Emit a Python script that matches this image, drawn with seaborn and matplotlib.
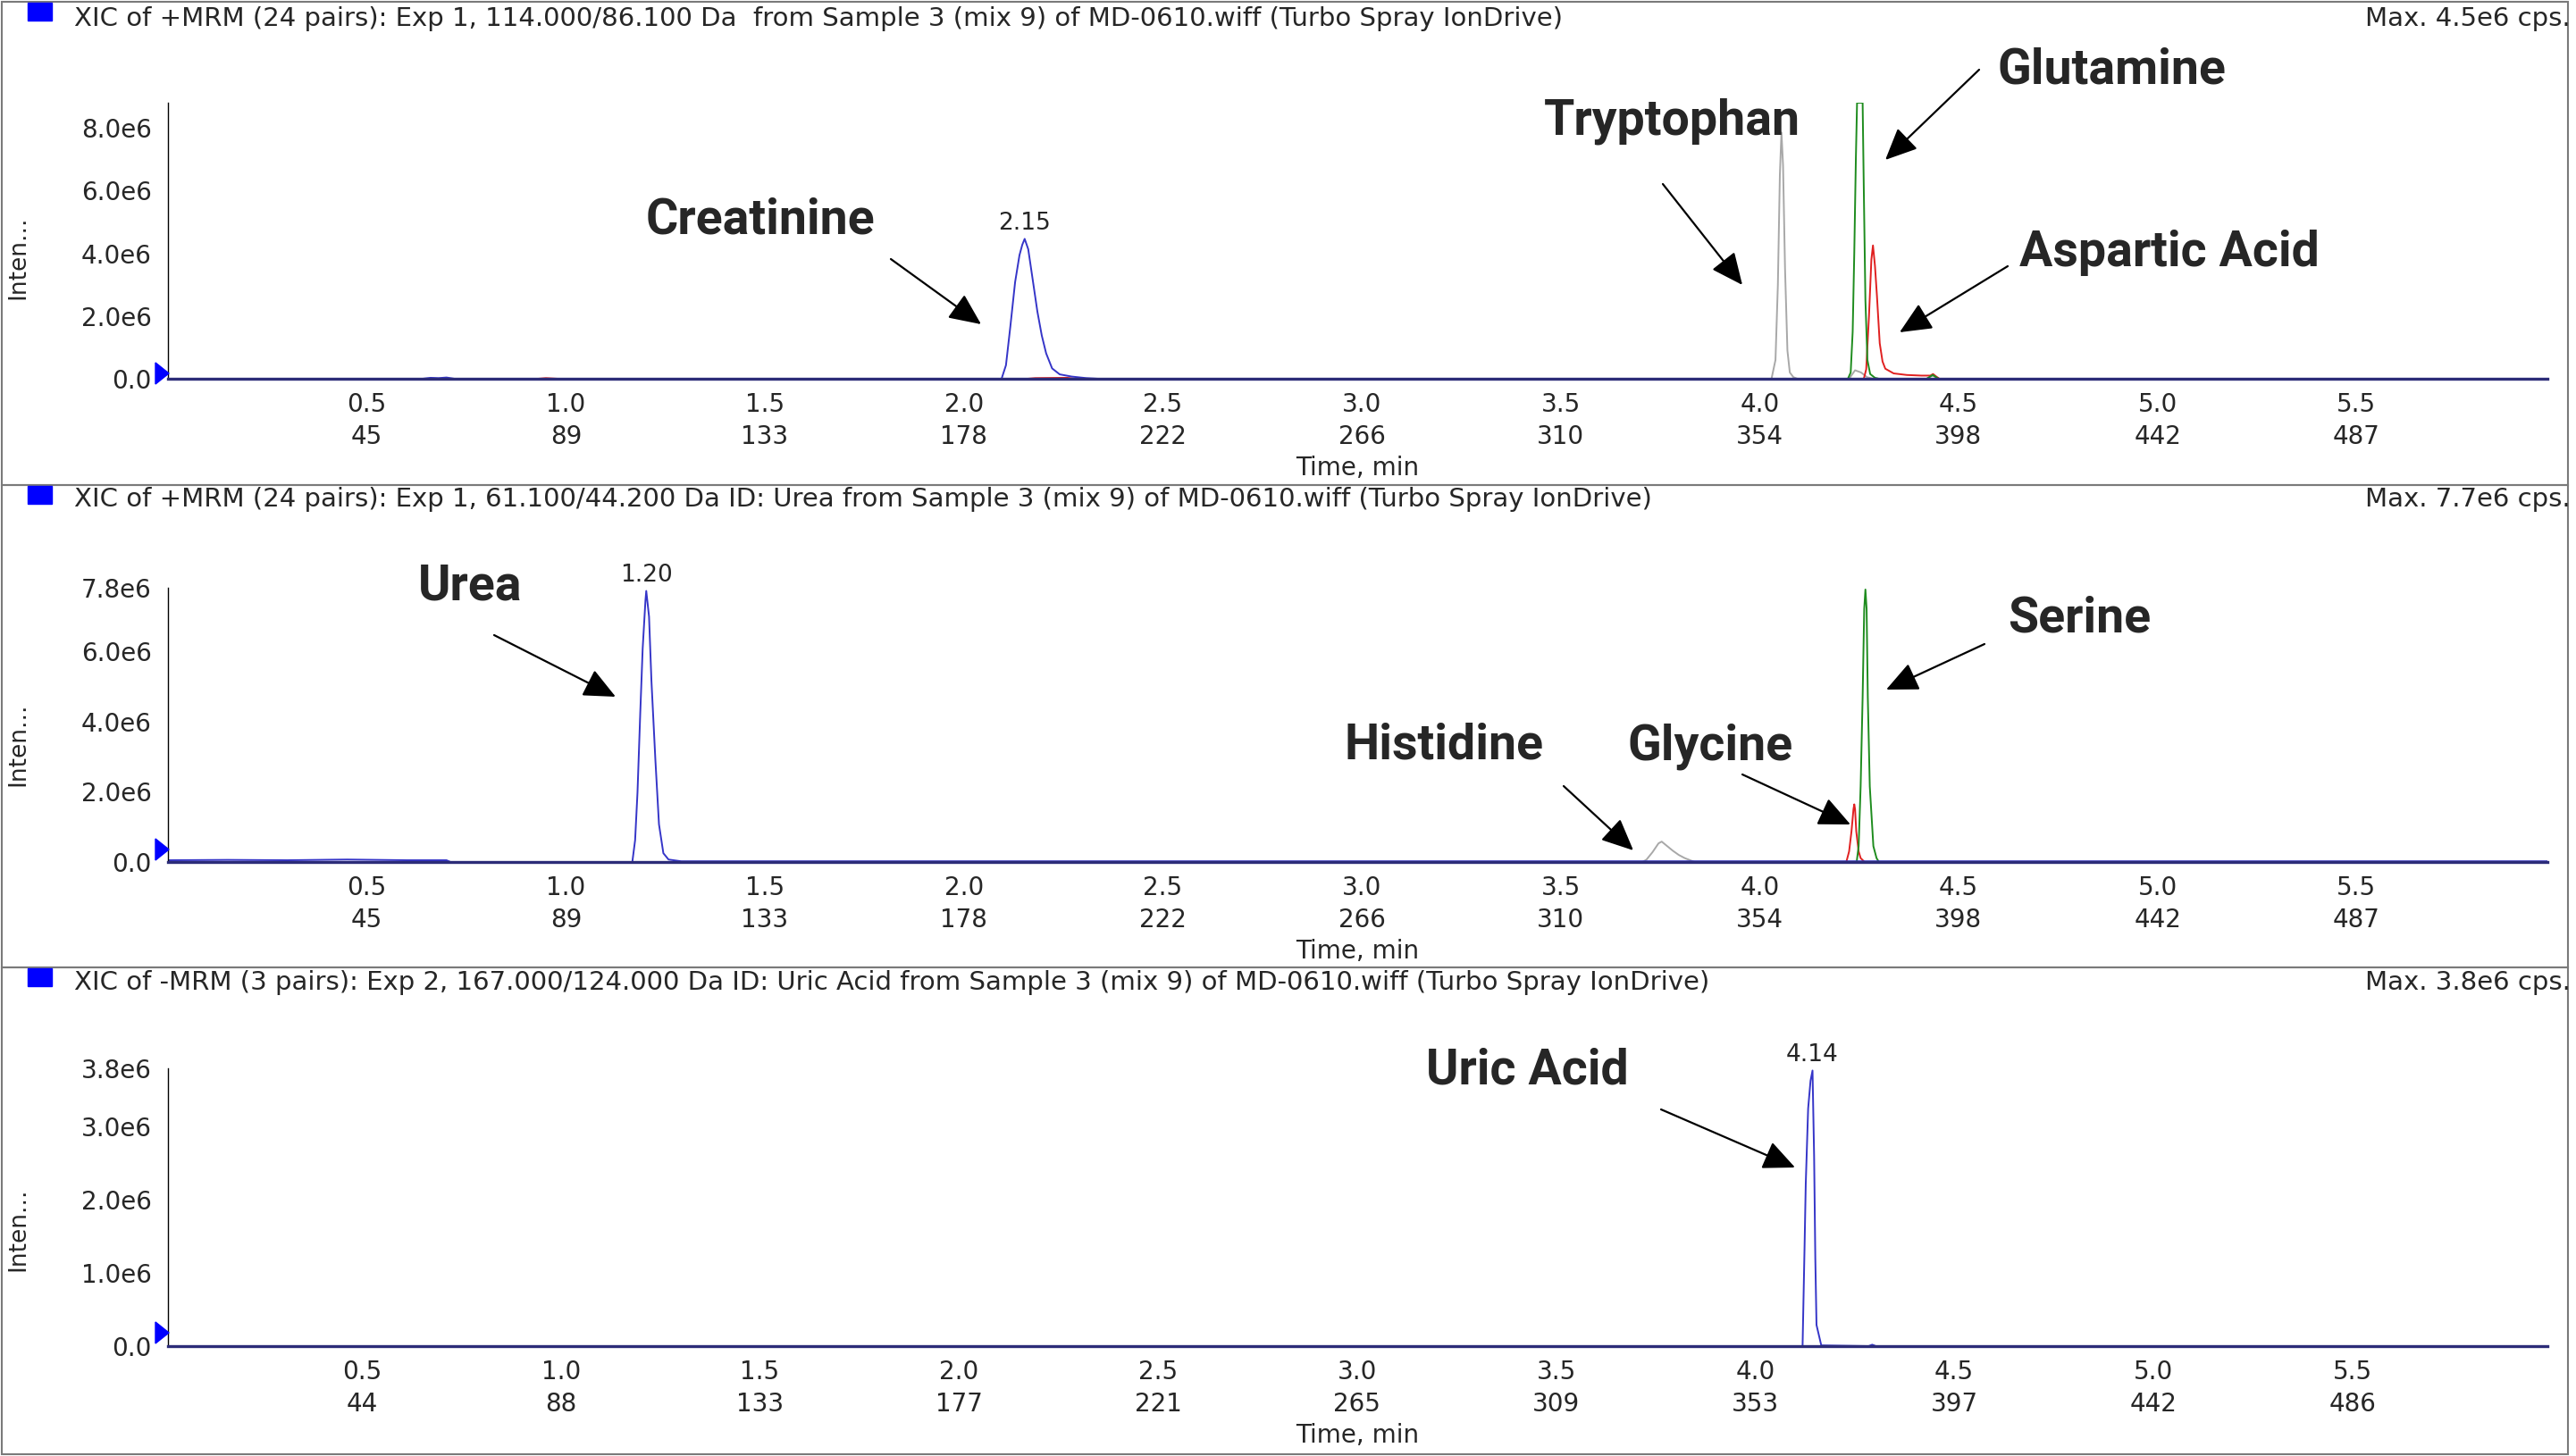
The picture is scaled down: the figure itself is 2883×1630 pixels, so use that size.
import numpy as np
import pandas as pd
import matplotlib
matplotlib.use('Agg')
import matplotlib.pyplot as plt
import seaborn as sns
from matplotlib.patches import Rectangle, Polygon
from matplotlib.ticker import FixedLocator, FuncFormatter

# ---------------- dados (tempo em min, intensidade em 1e6 cps) ----------------
# Painel 1 - 114.000/86.100 Da
p1_azul_t = [0.00, 0.64, 0.66, 0.68, 0.70, 0.72, 2.090, 2.095, 2.106, 2.117, 2.129, 2.140, 2.147,
             2.153, 2.162, 2.173, 2.185, 2.196, 2.207, 2.222, 2.241, 2.271, 2.308, 2.338, 5.98]
p1_azul_i = [0.0, 0.0, 0.03, 0.02, 0.04, 0.0, 0.0, 0.0, 0.43, 1.66, 3.08, 3.94, 4.27,
             4.46, 4.13, 3.18, 2.14, 1.38, 0.81, 0.33, 0.14, 0.07, 0.02, 0.0, 0.0]
p1_cinza_t = [0.00, 4.030, 4.040, 4.046, 4.051, 4.055, 4.059, 4.064, 4.070, 4.076, 4.085, 4.095,
              4.225, 4.240, 4.255, 4.270, 4.285, 4.420, 4.435, 4.450, 5.98]
p1_cinza_i = [0.0, 0.0, 0.6, 3.0, 6.5, 7.85, 6.8, 3.5, 0.9, 0.2, 0.05, 0.0,
              0.0, 0.27, 0.2, 0.05, 0.0, 0.0, 0.1, 0.0, 0.0]
p1_verde_t = [0.00, 4.222, 4.229, 4.234, 4.238, 4.242, 4.245, 4.259, 4.262, 4.266, 4.271, 4.278,
              4.290, 4.300, 4.420, 4.435, 4.450, 5.98]
p1_verde_i = [0.0, 0.0, 0.2, 1.5, 4.0, 7.0, 8.8, 8.8, 6.0, 2.5, 0.6, 0.15,
              0.03, 0.0, 0.0, 0.12, 0.0, 0.0]
p1_verm_t = [0.00, 0.93, 0.95, 0.98, 2.16, 2.18, 2.26, 2.28, 4.262, 4.268, 4.275, 4.281, 4.285,
             4.290, 4.295, 4.302, 4.309, 4.316, 4.337, 4.370, 4.407, 4.429, 4.436, 4.443, 4.452, 5.98]
p1_verm_i = [0.0, 0.0, 0.02, 0.0, 0.0, 0.02, 0.03, 0.0, 0.0, 0.3, 2.0, 3.8, 4.25,
             3.6, 2.64, 1.13, 0.55, 0.32, 0.17, 0.12, 0.10, 0.10, 0.15, 0.08, 0.0, 0.0]

# Painel 2 - 61.100/44.200 Da (Urea)
p2_azul_t = [0.00, 0.15, 0.30, 0.45, 0.60, 0.70, 0.71, 1.140, 1.167, 1.174, 1.180, 1.187, 1.193,
             1.200, 1.202, 1.209, 1.215, 1.225, 1.234, 1.245, 1.258, 1.290, 5.98]
p2_azul_i = [0.05, 0.06, 0.05, 0.07, 0.05, 0.05, 0.0, 0.0, 0.0, 0.62, 1.98, 4.26, 6.07,
             7.44, 7.71, 6.98, 5.16, 2.89, 1.07, 0.25, 0.07, 0.02, 0.02]
p2_cinza_t = [0.00, 3.706, 3.716, 3.731, 3.746, 3.754, 3.768, 3.782, 3.797, 3.812, 3.837, 5.98]
p2_cinza_i = [0.0, 0.0, 0.07, 0.28, 0.53, 0.58, 0.45, 0.32, 0.20, 0.11, 0.0, 0.0]
p2_verm_t = [0.00, 4.218, 4.225, 4.231, 4.236, 4.238, 4.240, 4.243, 4.249, 4.254, 4.264, 5.98]
p2_verm_i = [0.0, 0.0, 0.3, 0.87, 1.5, 1.64, 1.5, 0.87, 0.3, 0.11, 0.0, 0.0]
p2_verde_t = [0.00, 4.244, 4.249, 4.254, 4.259, 4.263, 4.266, 4.269, 4.272, 4.277, 4.286, 4.294, 4.300, 5.98]
p2_verde_i = [0.0, 0.0, 0.45, 2.15, 4.69, 7.2, 7.75, 7.2, 4.69, 2.15, 0.45, 0.11, 0.0, 0.0]

# Painel 3 - 167.000/124.000 Da (Uric Acid)
p3_azul_t = [0.013, 4.119, 4.124, 4.127, 4.133, 4.139, 4.144, 4.148, 4.151, 4.154, 4.166, 4.285,
             4.294, 4.303, 5.99]
p3_azul_i = [0.0, 0.0, 1.36, 2.22, 3.25, 3.63, 3.77, 2.6, 1.2, 0.29, 0.01, 0.0,
             0.02, 0.0, 0.0]

cabecalhos = [
    'XIC of +MRM (24 pairs): Exp 1, 114.000/86.100 Da  from Sample 3 (mix 9) of MD-0610.wiff (Turbo Spray IonDrive)',
    'XIC of +MRM (24 pairs): Exp 1, 61.100/44.200 Da ID: Urea from Sample 3 (mix 9) of MD-0610.wiff (Turbo Spray IonDrive)',
    'XIC of -MRM (3 pairs): Exp 2, 167.000/124.000 Da ID: Uric Acid from Sample 3 (mix 9) of MD-0610.wiff (Turbo Spray IonDrive)',
]
maximos = ['Max. 4.5e6 cps.', 'Max. 7.7e6 cps.', 'Max. 3.8e6 cps.']

tempos_tick = [0.5, 1.0, 1.5, 2.0, 2.5, 3.0, 3.5, 4.0, 4.5, 5.0, 5.5]
ciclos_12 = ['45', '89', '133', '178', '222', '266', '310', '354', '398', '442', '487']
ciclos_3 = ['44', '88', '133', '177', '221', '265', '309', '353', '397', '442', '486']

y_ticks = [[0, 2, 4, 6, 8], [0, 2, 4, 6, 7.8], [0, 1, 2, 3, 3.8]]
y_minor = [[1, 3, 5, 7], [1, 3, 5, 7], [0.5, 1.5, 2.5, 3.5]]
y_max = [8.8, 7.8, 3.8]

# compostos anotados: (painel, nome)
compostos = [(0, 'Creatinine'), (0, 'Tryptophan'), (0, 'Glutamine'), (0, 'Aspartic Acid'),
             (1, 'Urea'), (1, 'Histidine'), (1, 'Glycine'), (1, 'Serine'), (2, 'Uric Acid')]

# ---------------- layout (pixels, origem no canto superior esquerdo) ----------------
W, H = 2883, 1630
sns.set_style('white')
plt.rcParams['font.family'] = ['DejaVu Sans']

fig = plt.figure(figsize=(W / 100, H / 100), dpi=100)


def rect(l, t, r, b):
    return [l / W, 1 - b / H, (r - l) / W, (b - t) / H]


caixas = [(2, 543), (543, 1083), (1083, 1628)]
eixos_px = [(188, 115, 2851, 424), (188, 658, 2851, 965), (188, 1196, 2851, 1507)]
header_y = [21, 559, 1100]
tri_y = [418, 951, 1492]
xlims = [(0, 5.98), (0, 5.98), (0.013, 5.99)]
ylab_y = [0.44, 0.43, 0.42]

AZUL, VERM, VERDE, CINZA = '#3535C8', '#E02020', '#1E8C1E', '#A8A8A8'

tracos = [
    [(p1_cinza_t, p1_cinza_i, CINZA), (p1_verm_t, p1_verm_i, VERM),
     (p1_verde_t, p1_verde_i, VERDE), (p1_azul_t, p1_azul_i, AZUL)],
    [(p2_cinza_t, p2_cinza_i, CINZA), (p2_verm_t, p2_verm_i, VERM),
     (p2_verde_t, p2_verde_i, VERDE), (p2_azul_t, p2_azul_i, AZUL)],
    [(p3_azul_t, p3_azul_i, AZUL)],
]
picos = [(p1_azul_t, p1_azul_i), (p2_azul_t, p2_azul_i), (p3_azul_t, p3_azul_i)]

for k in range(3):
    top, bot = caixas[k]
    fig.patches.append(Rectangle((2 / W, 1 - bot / H), 2872 / W, (bot - top) / H,
                                 transform=fig.transFigure, fill=False,
                                 edgecolor='#7a7a7a', lw=1.5))
    sq_top = top + 1 if k else 3
    fig.patches.append(Rectangle((31 / W, 1 - (sq_top + 20) / H), 27 / W, 20 / H,
                                 transform=fig.transFigure, color='#0000FF'))
    fig.text(83 / W, 1 - header_y[k] / H, cabecalhos[k], fontsize=21, va='center', ha='left')
    fig.text(2877 / W, 1 - header_y[k] / H, maximos[k], fontsize=21, va='center', ha='right')
    ty = tri_y[k]
    fig.patches.append(Polygon([(174 / W, 1 - (ty - 12) / H), (174 / W, 1 - (ty + 12) / H),
                                (189 / W, 1 - ty / H)], closed=True,
                               transform=fig.transFigure, color='#0000FF'))

    ax = fig.add_axes(rect(*eixos_px[k]))
    for t, i, c in tracos[k]:
        df = pd.DataFrame({'t': t, 'i': i})
        sns.lineplot(data=df, x='t', y='i', color=c, lw=1.4, ax=ax, sort=False, estimator=None)

    # rótulo do pico
    pt, pi = picos[k]
    j = int(np.argmax(pi))
    ax.annotate(f'{pt[j]:.2f}', xy=(pt[j], pi[j]), xytext=(0, 3), textcoords='offset points',
                ha='center', va='bottom', fontsize=19)

    ax.set_xlim(*xlims[k])
    ax.set_ylim(0, y_max[k])
    ciclos = ciclos_3 if k == 2 else ciclos_12
    ax.set_xticks(tempos_tick)
    ax.set_xticklabels([f'{a:.1f}\n{b}' for a, b in zip(tempos_tick, ciclos)], linespacing=1.36)
    ax.xaxis.set_minor_locator(FixedLocator([v / 10 for v in range(1, 60) if v % 5]))
    ax.set_yticks(y_ticks[k])
    ax.yaxis.set_minor_locator(FixedLocator(y_minor[k]))
    ax.yaxis.set_major_formatter(FuncFormatter(lambda v, p: '0.0' if v == 0 else f'{v:.1f}e6'))
    ax.tick_params(axis='both', which='major', length=7, width=1, color='#333333',
                   labelsize=20, direction='out')
    ax.tick_params(axis='both', which='minor', length=3.5, width=1, color='#333333', direction='out')
    ax.tick_params(axis='x', which='major', pad=4)
    ax.tick_params(axis='y', which='major', pad=6)
    ax.set_xlabel('Time, min', fontsize=20, labelpad=5)
    ax.set_ylabel('Inten...', fontsize=19)
    ax.yaxis.set_label_coords(-0.0582, ylab_y[k])
    for s in ['top', 'right']:
        ax.spines[s].set_visible(False)
    ax.spines['left'].set_color('#000000')
    ax.spines['left'].set_linewidth(1)
    ax.spines['bottom'].set_color('#2c2c78')
    ax.spines['bottom'].set_linewidth(2.4)
    ax.spines['bottom'].set_zorder(3)

# ---------------- anotações (texto + seta) ----------------
rotulos_px = {
    'Creatinine': ((723, 261), (997, 290), (1098, 363)),
    'Tryptophan': ((1728, 151), (1861, 206), (1950, 319)),
    'Glutamine': ((2236, 93), (2215, 78), (2110, 179)),
    'Aspartic Acid': ((2260, 298), (2247, 298), (2126, 372)),
    'Urea': ((468, 671), (553, 711), (689, 780)),
    'Histidine': ((1504, 849), (1750, 880), (1828, 952)),
    'Glycine': ((1821, 850), (1950, 867), (2071, 923)),
    'Serine': ((2247, 708), (2221, 721), (2111, 772)),
    'Uric Acid': ((1596, 1214), (1859, 1242), (2009, 1307)),
}
for painel, nome in compostos:
    (tx, ty), (ax0, ay0), (ax1, ay1) = rotulos_px[nome]
    fig.text(tx / W, 1 - ty / H, nome, fontsize=40, fontweight='bold',
             family=['Roboto', 'DejaVu Sans'], ha='left', va='baseline')
    fig.add_artist(matplotlib.patches.FancyArrowPatch(
        (ax0 / W, 1 - ay0 / H), (ax1 / W, 1 - ay1 / H), transform=fig.transFigure,
        arrowstyle='-|>,head_length=1.1,head_width=0.5', mutation_scale=20,
        color='black', lw=1.6, shrinkA=0, shrinkB=0))

fig.savefig('out.png', dpi=100)
